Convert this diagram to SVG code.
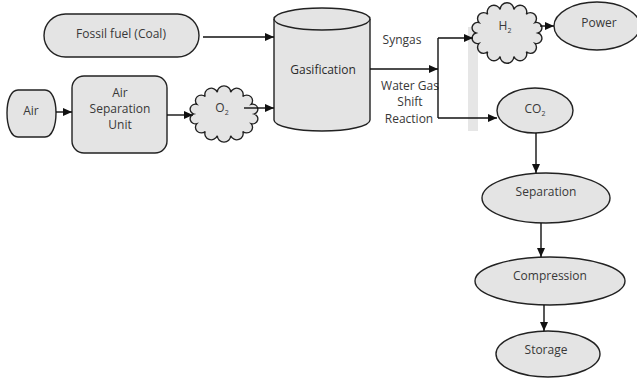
<svg xmlns="http://www.w3.org/2000/svg" width="637" height="378" viewBox="0 0 637 378">
<defs>
<style>
.n{fill:#e4e4e4;stroke:#222;stroke-width:1.4}
.t{font-family:"Open Sans","Liberation Sans",sans-serif;font-size:12px;fill:#383838;text-anchor:middle}
.s{font-size:7px}
.c{fill:none;stroke:#111;stroke-width:1.4}
</style>
<marker id="ah" markerUnits="userSpaceOnUse" markerWidth="10" markerHeight="8" refX="9" refY="4" orient="auto">
<path d="M0,0 L9,4 L0,8 Z" fill="#111"/>
</marker>
<path id="cloud" d="M31,0 A5.4,5.4 0 0 1 27.93,10.41 A6,6 0 0 1 19.33,18.76 A6.6,6.6 0 0 1 6.9,23.4 A6.9,6.9 0 0 1 -6.9,23.4 A6.6,6.6 0 0 1 -19.33,18.76 A6,6 0 0 1 -27.93,10.41 A5.4,5.4 0 0 1 -31,0 A5.4,5.4 0 0 1 -27.93,-10.41 A6,6 0 0 1 -19.33,-18.76 A6.6,6.6 0 0 1 -6.9,-23.4 A6.9,6.9 0 0 1 6.9,-23.4 A6.6,6.6 0 0 1 19.33,-18.76 A6,6 0 0 1 27.93,-10.41 A5.4,5.4 0 0 1 31,0 Z"/>
</defs>
<rect width="637" height="378" fill="#fff"/>
<rect x="468" y="27" width="10" height="104" fill="#e6e6e6"/>

<g id="fossil">
<rect class="n" x="44" y="14" width="155" height="43" rx="21.5"/>
<text class="t" x="121" y="38">Fossil fuel (Coal)</text>
</g>
<g id="gasification">
<path class="n" d="M274,19 V120 A48,11 0 0 0 370,120 V19 A48,11 0 0 0 274,19 Z"/>
<path class="n" d="M274,19 A48,11 0 0 0 370,19" fill="none"/>
<text class="t" x="323" y="74" style="font-weight:500;fill:#2a2a2a">Gasification</text>
</g>
<g id="air">
<path class="n" d="M18,90 H45 C52,90 56,100 56,113 C56,126 52,137 45,137 H18 C11,137 7,126 7,113 C7,100 11,90 18,90 Z"/>
<text class="t" x="31" y="115">Air</text>
</g>
<g id="asu">
<rect class="n" x="72" y="76" width="95" height="77" rx="12"/>
<text class="t" x="120" y="97">Air</text>
<text class="t" x="120" y="113">Separation</text>
<text class="t" x="120" y="129">Unit</text>
</g>
<g id="o2">
<use href="#cloud" class="n" transform="translate(224,114) scale(0.97,0.93)"/>
<text class="t" x="222" y="112">O<tspan class="s" dy="3">2</tspan></text>
</g>
<g id="h2">
<use href="#cloud" class="n" transform="translate(507,33)"/>
<text class="t" x="505" y="30">H<tspan class="s" dy="3">2</tspan></text>
</g>
<g id="power">
<ellipse class="n" cx="597" cy="26" rx="43" ry="24"/>
<text class="t" x="599" y="27">Power</text>
</g>
<g id="co2">
<ellipse class="n" cx="535" cy="110.5" rx="38" ry="22.5"/>
<text class="t" x="535" y="113">CO<tspan class="s" dy="3">2</tspan></text>
</g>
<g id="separation">
<ellipse class="n" cx="546" cy="198" rx="64" ry="25"/>
<text class="t" x="546" y="196">Separation</text>
</g>
<g id="compression">
<ellipse class="n" cx="550" cy="281" rx="75" ry="24"/>
<text class="t" x="550" y="280">Compression</text>
</g>
<g id="storage">
<ellipse class="n" cx="548" cy="354" rx="52" ry="23"/>
<text class="t" x="546" y="354">Storage</text>
</g>

<g id="labels">
<text class="t" x="402" y="44">Syngas</text>
<text class="t" x="410" y="90">Water Gas</text>
<text class="t" x="410" y="106">Shift</text>
<text class="t" x="409" y="123">Reaction</text>
</g>

<g id="connectors">
<path class="c" d="M203,37 H274" marker-end="url(#ah)"/>
<path class="c" d="M56,112 H72" marker-end="url(#ah)"/>
<path class="c" d="M167,115 H193" marker-end="url(#ah)"/>
<path class="c" d="M244,108 H274" marker-end="url(#ah)"/>
<path class="c" d="M370,69 H438" marker-end="url(#ah)"/>
<path class="c" d="M438,38 V118"/>
<path class="c" d="M438,38 H473" marker-end="url(#ah)"/>
<path class="c" d="M438,118 H497" marker-end="url(#ah)"/>
<path class="c" d="M540,26 H554" marker-end="url(#ah)"/>
<path class="c" d="M536,133 V173" marker-end="url(#ah)"/>
<path class="c" d="M541,223 V257" marker-end="url(#ah)"/>
<path class="c" d="M544,305 V331" marker-end="url(#ah)"/>
</g>
</svg>
